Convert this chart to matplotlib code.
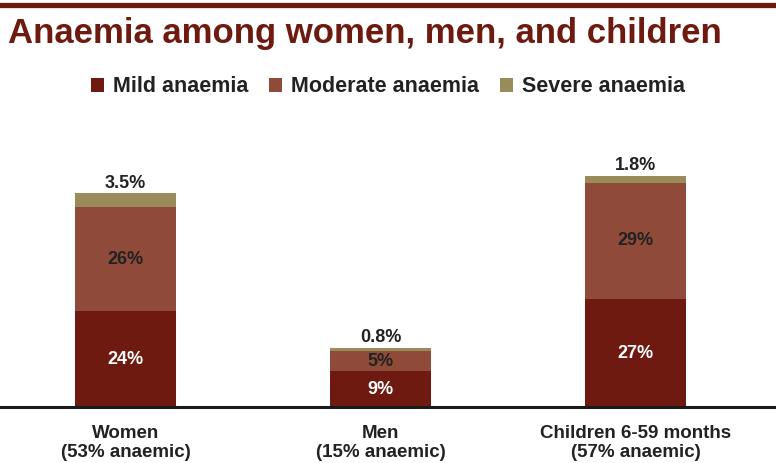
import numpy as np
import matplotlib.pyplot as plt
from matplotlib.lines import Line2D

plt.rcParams['font.family'] = ['Liberation Sans', 'DejaVu Sans']

groups = ['Women\n(53% anaemic)', 'Men\n(15% anaemic)', 'Children 6-59 months\n(57% anaemic)']
mild = [24, 9, 27]
moderate = [26, 5, 29]
severe = [3.5, 0.8, 1.8]
mild_labels = ['24%', '9%', '27%']
moderate_labels = ['26%', '5%', '29%']
severe_labels = ['3.5%', '0.8%', '1.8%']

c_mild = '#6e1a10'
c_mod = '#8f4a3a'
c_sev = '#9a8c5a'
c_title = '#6e1a10'
c_text = '#222222'

W, H = 776, 463
fig = plt.figure(figsize=(W / 100, H / 100), dpi=100)

# axes placed in pixel coordinates: baseline at y=407, 4 px per %
base_px = 407
top_px = 127
ax = fig.add_axes([0, 1 - base_px / H, 1, (base_px - top_px) / H])
ax.set_ylim(0, (base_px - top_px) / 4)

x = np.arange(len(groups))
spacing = 255.0
width = 101 / spacing
ax.set_xlim(-125.5 / spacing, 2 + (W - 636) / spacing)

mild_b = np.array(mild)
mod_b = np.array(moderate)
sev_b = np.array(severe)

ax.bar(x, mild_b, width, color=c_mild, label='Mild anaemia')
ax.bar(x, mod_b, width, bottom=mild_b, color=c_mod, label='Moderate anaemia')
ax.bar(x, sev_b, width, bottom=mild_b + mod_b, color=c_sev, label='Severe anaemia')

for i in range(len(x)):
    ax.text(x[i], mild_b[i] / 2, mild_labels[i], ha='center', va='center',
            color='white', fontsize=13, fontweight='bold')
    ax.text(x[i], mild_b[i] + mod_b[i] / 2, moderate_labels[i], ha='center', va='center',
            color=c_text, fontsize=13, fontweight='bold')
    ax.text(x[i], mild_b[i] + mod_b[i] + sev_b[i] + 2.5, severe_labels[i], ha='center', va='center',
            color=c_text, fontsize=13, fontweight='bold')

for s in ['top', 'right', 'left']:
    ax.spines[s].set_visible(False)
ax.spines['bottom'].set_color('#1a1a1a')
ax.spines['bottom'].set_linewidth(2.2)
ax.set_yticks([])
ax.set_xticks(x)
ax.set_xticklabels(groups, fontsize=13.5, fontweight='bold', color=c_text, linespacing=1.15)
ax.tick_params(axis='x', length=0, pad=13)

# title and top rule
fig.add_artist(Line2D([0, 1], [1 - 5 / H, 1 - 5 / H], color=c_title, linewidth=3.8,
                      transform=fig.transFigure))
fig.text(8 / W, 1 - 33 / H, 'Anaemia among women, men, and children', ha='left', va='center',
         fontsize=25, fontweight='bold', color=c_title)

leg = fig.legend(loc='center', bbox_to_anchor=(388 / W, 1 - 87 / H), ncol=3, frameon=False,
                 handlelength=0.6, handleheight=0.6, handletextpad=0.4,
                 columnspacing=1.0, prop={'weight': 'bold', 'size': 15.5})
for t in leg.get_texts():
    t.set_color(c_text)

fig.savefig('out.png', dpi=100)
